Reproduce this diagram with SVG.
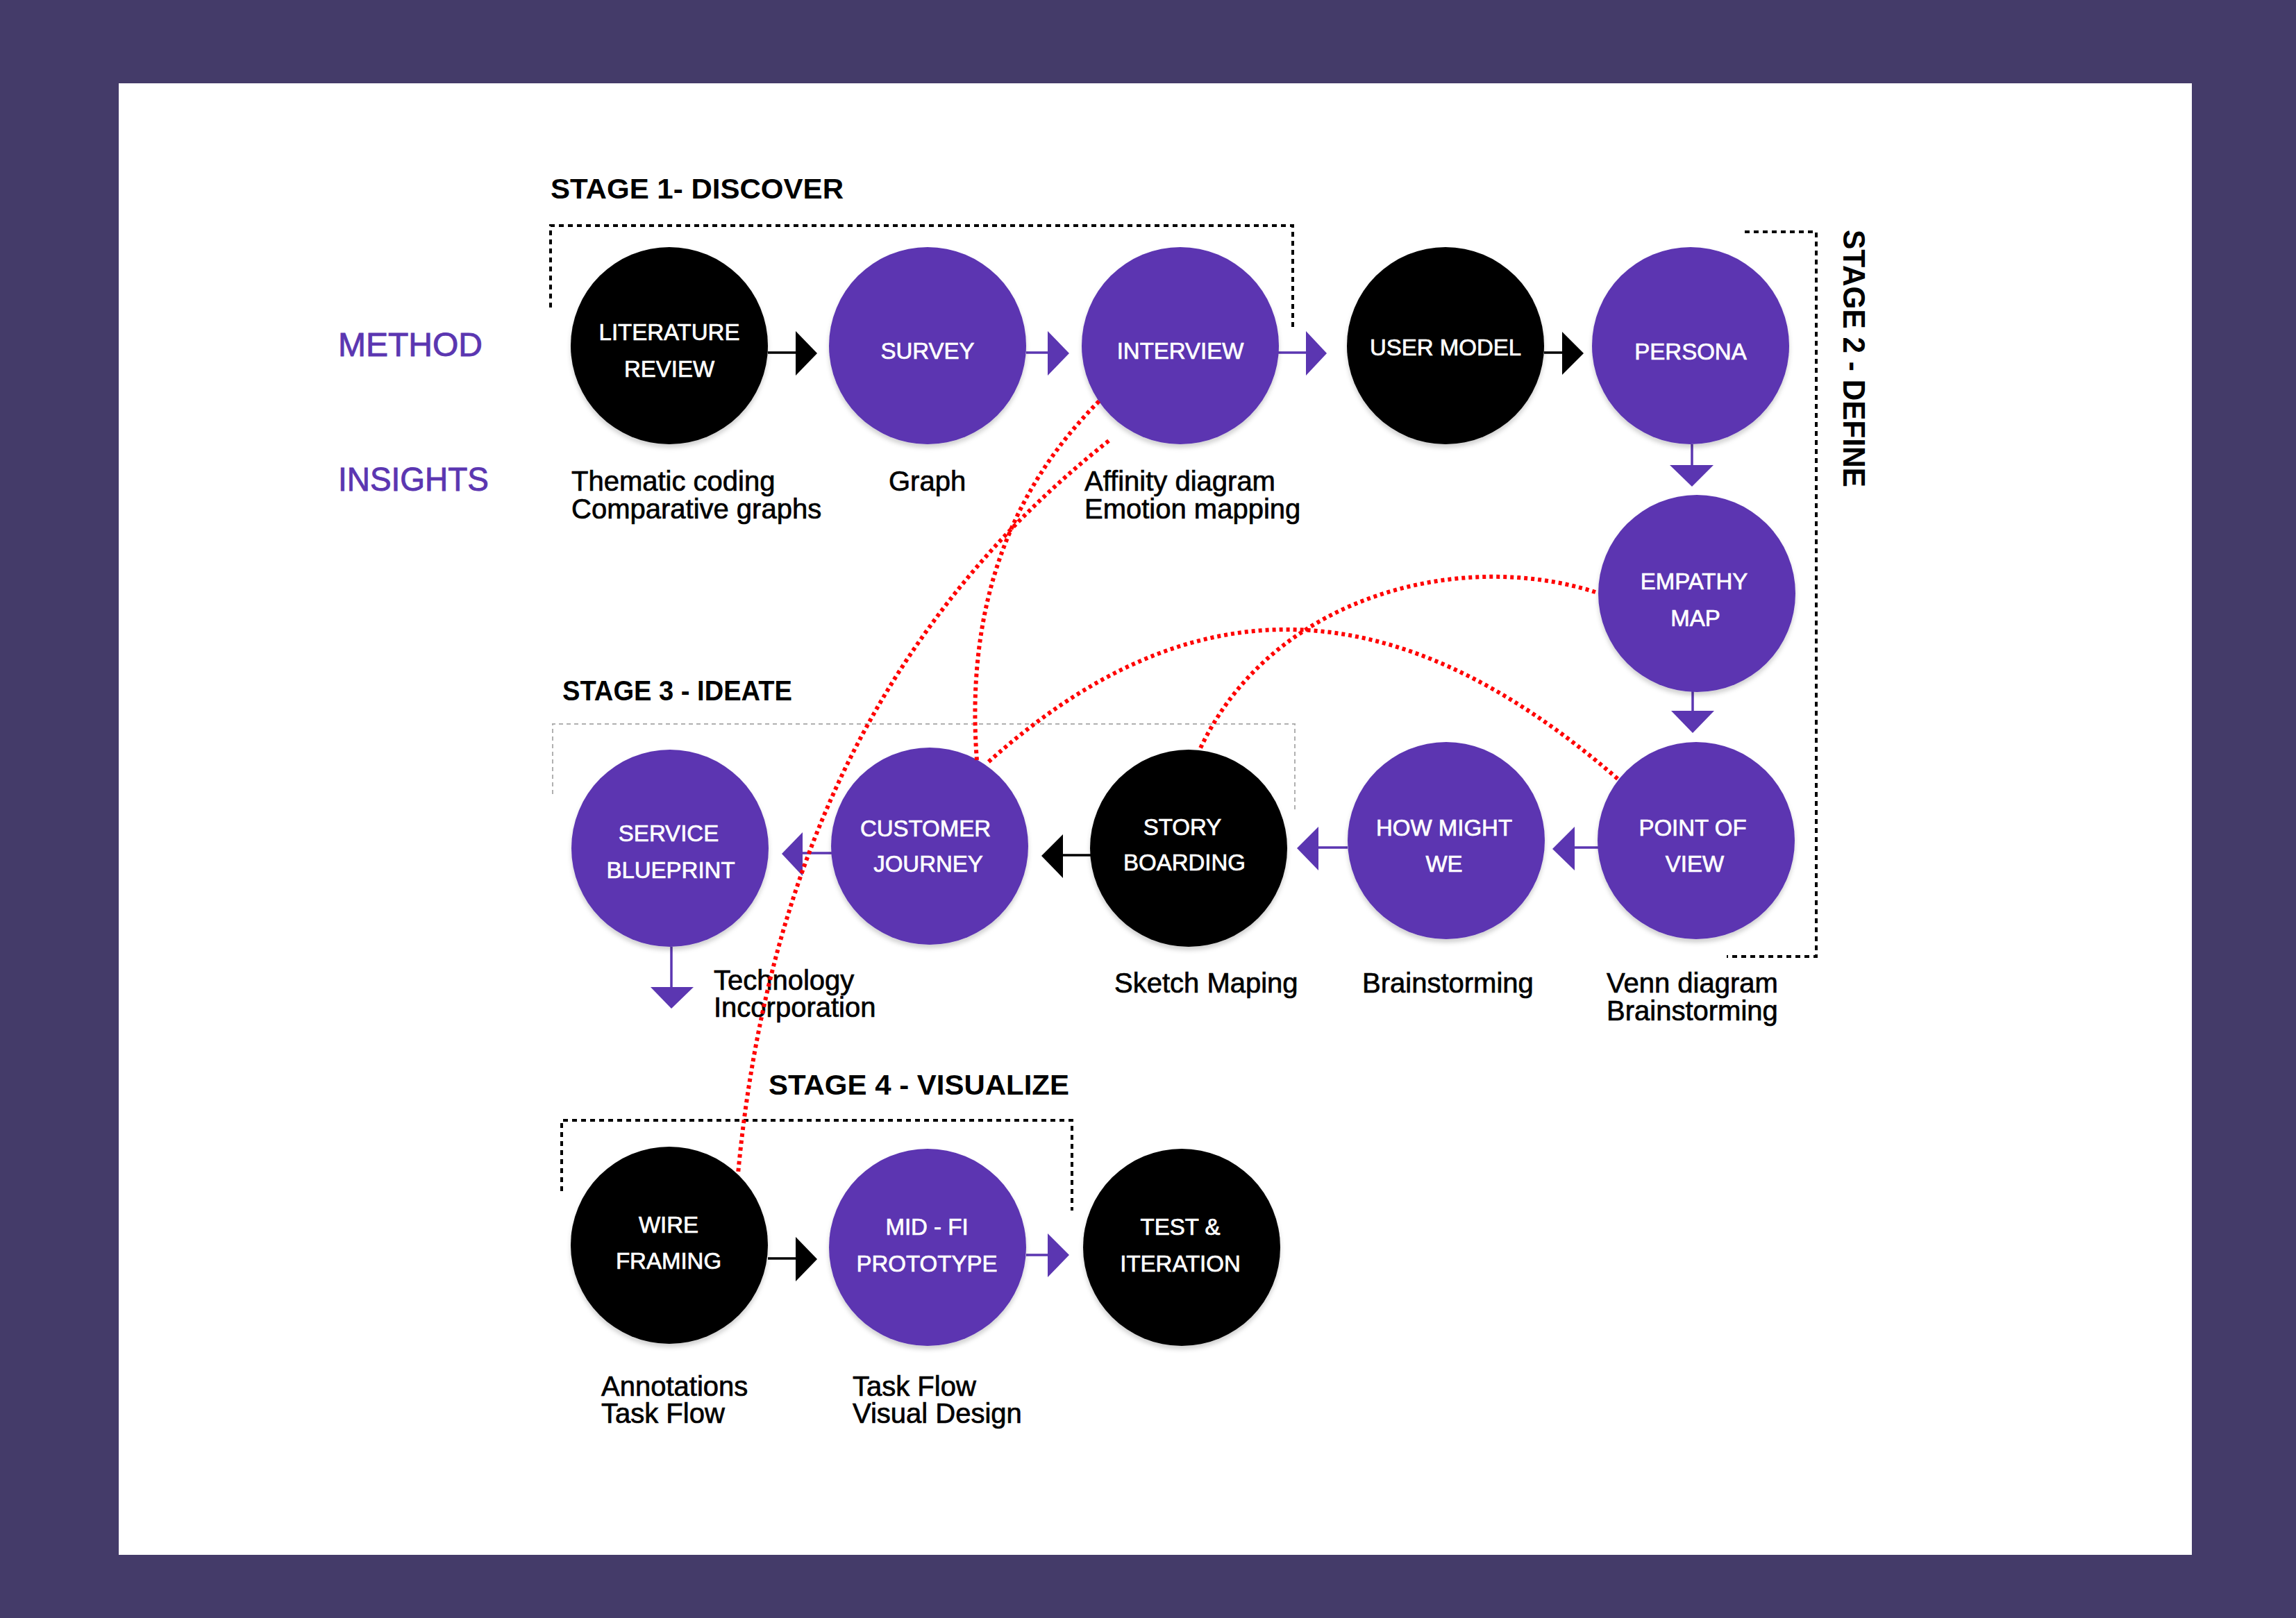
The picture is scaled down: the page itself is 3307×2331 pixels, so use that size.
<svg xmlns="http://www.w3.org/2000/svg" width="3307" height="2331" viewBox="0 0 3307 2331">
<style>
.node-p{fill:#5b36b1;filter:url(#sh)}
.node-b{fill:#000;filter:url(#sh)}
.lbl{font-family:"Liberation Sans",Arial,sans-serif;font-size:33px;fill:#fff;stroke:#fff;stroke-width:0.7;text-anchor:middle}
.ins{font-family:"Liberation Sans",Arial,sans-serif;font-size:40px;fill:#000;stroke:#000;stroke-width:0.7}
.side{font-family:"Liberation Sans",Arial,sans-serif;font-size:48px;fill:#5b36b1;stroke:#5b36b1;stroke-width:0.9}
.stage{font-family:"Liberation Sans",Arial,sans-serif;font-size:41px;font-weight:bold;fill:#000}
.br{fill:none;stroke:#000;stroke-width:4;stroke-dasharray:7 6}
.br3{fill:none;stroke:#b0b0b0;stroke-width:2;stroke-dasharray:6 5}
.lnp{stroke:#5b36b1;stroke-width:3.5;fill:none}
.lnb{stroke:#000;stroke-width:3.5;fill:none}
.tp{fill:#5b36b1}
.tb{fill:#000}
.red{fill:none;stroke:#ff0000;stroke-width:6;stroke-dasharray:5 5}
</style>
<defs>
<filter id="sh" x="-20%" y="-20%" width="140%" height="150%">
<feDropShadow dx="0" dy="5" stdDeviation="3" flood-color="#000" flood-opacity="0.18"/>
</filter>
</defs>
<rect x="0" y="0" width="3307" height="2331" fill="#443b69"/>
<rect x="171" y="120" width="2986" height="2120" fill="#ffffff"/>

<g id="labels">
<text class="side" x="487" y="513">METHOD</text>
<text class="side" x="487" y="707" textLength="217" lengthAdjust="spacingAndGlyphs">INSIGHTS</text>
<text class="stage" x="793" y="286" textLength="422" lengthAdjust="spacingAndGlyphs">STAGE 1- DISCOVER</text>
<text class="stage" x="810" y="1009" textLength="331" lengthAdjust="spacingAndGlyphs">STAGE 3 - IDEATE</text>
<text class="stage" x="1107" y="1577" textLength="433" lengthAdjust="spacingAndGlyphs">STAGE 4 - VISUALIZE</text>
<text class="stage" transform="translate(2655,331) rotate(90)" x="0" y="0" style="font-size:45px" textLength="371" lengthAdjust="spacingAndGlyphs">STAGE 2 - DEFINE</text>
</g>

<g id="brackets">
<path class="br" d="M793,443 V325 H1862 V477"/>
<path class="br" d="M2513,334 H2616 V1378 H2487"/>
<path class="br3" d="M796,1144 V1043 H1865 V1169"/>
<path class="br" d="M809,1716 V1614 H1544 V1744"/>
</g>

<g id="connectors">
<line class="lnb" x1="1106" y1="508" x2="1148" y2="508"/><polygon class="tb" points="1146,477 1177,509 1146,541"/>
<line class="lnp" x1="1478" y1="508" x2="1511" y2="508"/><polygon class="tp" points="1509,477 1540,509 1509,541"/>
<line class="lnp" x1="1841" y1="508" x2="1883" y2="508"/><polygon class="tp" points="1881,477 1911,509 1881,541"/>
<line class="lnb" x1="2224" y1="508" x2="2252" y2="508"/><polygon class="tb" points="2250,478 2281,509 2250,540"/>
<line class="lnp" x1="2437" y1="640" x2="2437" y2="672"/><polygon class="tp" points="2405,670 2437,701 2468,670"/>
<line class="lnp" x1="2438" y1="996" x2="2438" y2="1026"/><polygon class="tp" points="2407,1024 2438,1056 2469,1024"/>
<line class="lnp" x1="2302" y1="1221" x2="2266" y2="1221"/><polygon class="tp" points="2268,1191 2236,1223 2268,1254"/>
<line class="lnp" x1="1941" y1="1221" x2="1897" y2="1221"/><polygon class="tp" points="1899,1191 1868,1222 1899,1254"/>
<line class="lnb" x1="1571" y1="1232" x2="1529" y2="1232"/><polygon class="tb" points="1531,1202 1500,1233 1531,1265"/>
<line class="lnp" x1="1198" y1="1229" x2="1154" y2="1229"/><polygon class="tp" points="1156,1199 1126,1230 1156,1262"/>
<line class="lnp" x1="967" y1="1364" x2="967" y2="1424"/><polygon class="tp" points="937,1422 967,1453 999,1422"/>
<line class="lnb" x1="1106" y1="1813" x2="1148" y2="1813"/><polygon class="tb" points="1146,1782 1177,1814 1146,1846"/>
<line class="lnp" x1="1478" y1="1808" x2="1511" y2="1808"/><polygon class="tp" points="1509,1777 1540,1808 1509,1840"/>
</g>

<g id="n-literature"><circle class="node-b" cx="964" cy="498" r="142"/><text class="lbl" x="964" y="490">LITERATURE</text><text class="lbl" x="964" y="543">REVIEW</text><text class="ins" x="823" y="707">Thematic coding</text><text class="ins" x="823" y="747">Comparative graphs</text></g>
<g id="n-survey"><circle class="node-p" cx="1336" cy="498" r="142"/><text class="lbl" x="1336" y="517">SURVEY</text><text class="ins" x="1280" y="707">Graph</text></g>
<g id="n-interview"><circle class="node-p" cx="1700" cy="498" r="142"/><text class="lbl" x="1700" y="517">INTERVIEW</text><text class="ins" x="1562" y="707">Affinity diagram</text><text class="ins" x="1562" y="747">Emotion mapping</text></g>
<g id="n-usermodel"><circle class="node-b" cx="2082" cy="498" r="142"/><text class="lbl" x="2082" y="512">USER MODEL</text></g>
<g id="n-persona"><circle class="node-p" cx="2435" cy="498" r="142"/><text class="lbl" x="2435" y="518">PERSONA</text></g>
<g id="n-empathy"><circle class="node-p" cx="2444" cy="855" r="142"/><text class="lbl" x="2440" y="849">EMPATHY</text><text class="lbl" x="2442" y="902">MAP</text></g>
<g id="n-pov"><circle class="node-p" cx="2443" cy="1211" r="142"/><text class="lbl" x="2438" y="1204">POINT OF</text><text class="lbl" x="2441" y="1256">VIEW</text><text class="ins" x="2314" y="1430">Venn diagram</text><text class="ins" x="2314" y="1470">Brainstorming</text></g>
<g id="n-hmw"><circle class="node-p" cx="2083" cy="1211" r="142"/><text class="lbl" x="2080" y="1204">HOW MIGHT</text><text class="lbl" x="2080" y="1256">WE</text><text class="ins" x="1962" y="1430">Brainstorming</text></g>
<g id="n-story"><circle class="node-b" cx="1712" cy="1222" r="142"/><text class="lbl" x="1703" y="1203">STORY</text><text class="lbl" x="1706" y="1254">BOARDING</text><text class="ins" x="1605" y="1430">Sketch Maping</text></g>
<g id="n-journey"><circle class="node-p" cx="1339" cy="1219" r="142"/><text class="lbl" x="1333" y="1205">CUSTOMER</text><text class="lbl" x="1337" y="1256">JOURNEY</text></g>
<g id="n-blueprint"><circle class="node-p" cx="965" cy="1222" r="142"/><text class="lbl" x="963" y="1212">SERVICE</text><text class="lbl" x="966" y="1265">BLUEPRINT</text><text class="ins" x="1028" y="1426">Technology</text><text class="ins" x="1028" y="1465">Incorporation</text></g>
<g id="n-wire"><circle class="node-b" cx="964" cy="1794" r="142"/><text class="lbl" x="963" y="1776">WIRE</text><text class="lbl" x="963" y="1828">FRAMING</text><text class="ins" x="866" y="2011">Annotations</text><text class="ins" x="866" y="2050">Task Flow</text></g>
<g id="n-midfi"><circle class="node-p" cx="1336" cy="1797" r="142"/><text class="lbl" x="1335" y="1779">MID - FI</text><text class="lbl" x="1335" y="1832">PROTOTYPE</text><text class="ins" x="1228" y="2011">Task Flow</text><text class="ins" x="1228" y="2050">Visual Design</text></g>
<g id="n-test"><circle class="node-b" cx="1702" cy="1797" r="142"/><text class="lbl" x="1700" y="1779">TEST &amp;</text><text class="lbl" x="1700" y="1832">ITERATION</text></g>

<g id="links">
<path class="red" d="M1583,578 Q1383,778 1407,1095"/>
<path class="red" d="M1597,635 Q1127,1006 1063,1691"/>
<path class="red" d="M2298,853 C2100,790 1830,860 1728,1080"/>
<path class="red" d="M2330,1122 C2004,839 1711,839 1421,1100"/>
</g>
</svg>
